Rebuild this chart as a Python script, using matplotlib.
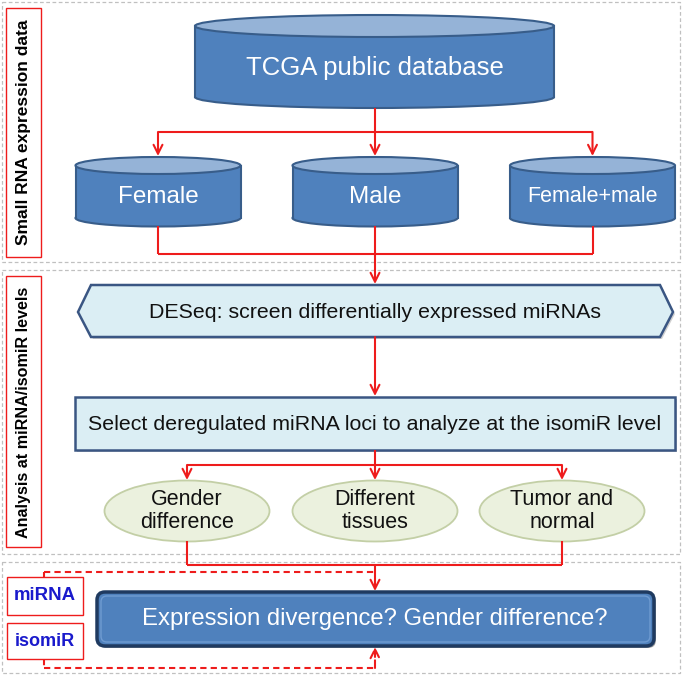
import matplotlib
matplotlib.use("Agg")
import matplotlib.pyplot as plt
from matplotlib.patches import Ellipse, Rectangle, Polygon, FancyBboxPatch

# ---- content ----
panel_labels = ["Small RNA expression data", "Analysis at miRNA/isomiR levels"]
source_label = "TCGA public database"
group_labels = ["Female", "Male", "Female+male"]
step1_label = "DESeq: screen differentially expressed miRNAs"
step2_label = "Select deregulated miRNA loci to analyze at the isomiR level"
compare_labels = ["Gender\ndifference", "Different\ntissues", "Tumor and\nnormal"]
result_label = "Expression divergence? Gender difference?"
level_labels = ["miRNA", "isomiR"]

W, H = 683, 675
fig = plt.figure(figsize=(W / 100, H / 100), dpi=100)
ax = fig.add_axes([0, 0, 1, 1])
ax.set_xlim(0, W)
ax.set_ylim(H, 0)
ax.axis("off")

FONT = "Liberation Sans"
RED = "#ee1c1c"
BLUE_FILL = "#4f81bd"
BLUE_TOP = "#95b3d7"
BLUE_EDGE = "#385d8a"
LIGHT_FILL = "#dbeef4"
DARK_EDGE = "#3a5683"
GREEN_FILL = "#ebf1de"
GREEN_EDGE = "#c3cfa6"
GRAY = "#c0c0c0"


def line(xs, ys, **kw):
    kw.setdefault("color", RED)
    kw.setdefault("lw", 1.5)
    ax.plot(xs, ys, solid_capstyle="butt", **kw)


def arrow(x, y0, y1, ls="-"):
    ax.annotate("", xy=(x, y1), xytext=(x, y0),
                arrowprops=dict(arrowstyle="->", color=RED, lw=1.5, ls=ls,
                                shrinkA=0, shrinkB=0, mutation_scale=16))


def cylinder(cx, w, ytop, ybot, ry, text, fs):
    x0 = cx - w / 2
    ax.add_patch(Ellipse((cx, ybot), w, 2 * ry, fc=BLUE_FILL, ec=BLUE_EDGE, lw=1.5, zorder=2))
    ax.add_patch(Rectangle((x0, ytop), w, ybot - ytop, fc=BLUE_FILL, ec="none", zorder=2))
    ax.plot([x0, x0], [ytop, ybot], color=BLUE_EDGE, lw=1.5, zorder=3)
    ax.plot([x0 + w, x0 + w], [ytop, ybot], color=BLUE_EDGE, lw=1.5, zorder=3)
    ax.add_patch(Ellipse((cx, ytop), w, 2 * ry, fc=BLUE_TOP, ec=BLUE_EDGE, lw=1.5, zorder=3))
    ax.text(cx, (ytop + ry + ybot) / 2 + 1, text, color="white", fontsize=fs,
            family=FONT, ha="center", va="center", zorder=4)


# ---- panels (dashed gray) ----
for (y0, y1) in [(2, 262), (270, 554), (562, 673)]:
    ax.add_patch(Rectangle((2, y0), 678, y1 - y0, fc="none", ec=GRAY, lw=0.9, ls=(0, (3, 2))))

# side label boxes
ax.add_patch(Rectangle((6, 8), 35, 249, fc="white", ec=RED, lw=1.0))
ax.text(23.5, 132, panel_labels[0], rotation=90, fontsize=12.5, family=FONT,
        weight="bold", ha="center", va="center")
ax.add_patch(Rectangle((6, 276), 35, 271, fc="white", ec=RED, lw=1.0))
ax.text(23.5, 412, panel_labels[1], rotation=90, fontsize=11.6, family=FONT,
        weight="bold", ha="center", va="center")

# ---- panel 1 ----
cylinder(374.5, 359, 26, 97, 11, source_label, 18.5)
group_x = [158, 375, 592.5]
for gx, lab, fs in zip(group_x, group_labels, [17.5, 17.5, 15.5]):
    cylinder(gx, 165, 165.5, 218, 8.5, lab, fs)

line([374.5, 374.5], [108, 132])
line([group_x[0], group_x[2]], [132, 132])
for gx in group_x:
    arrow(gx, 132, 156)

line([group_x[0], group_x[0]], [226, 254])
line([group_x[2], group_x[2]], [226, 254])
line([group_x[0], group_x[2]], [254, 254])
line([375, 375], [226, 254])
arrow(375, 254, 284)

# ---- panel 2 ----
hexpts = [(78, 312), (91, 285), (660, 285), (673, 312), (660, 337), (91, 337)]
ax.add_patch(Polygon([(x + 2, y + 2) for x, y in hexpts], closed=True, fc="#d0d0d0", ec="none", zorder=1))
ax.add_patch(Polygon(hexpts, closed=True, fc=LIGHT_FILL, ec=DARK_EDGE, lw=1.8, zorder=2))
ax.text(375, 312, step1_label, fontsize=15.4, family=FONT, color="#111111",
        ha="center", va="center", zorder=3)

arrow(375, 337, 396)

ax.add_patch(Rectangle((77, 399), 600, 53, fc="#c8c8c8", ec="none", zorder=1))
ax.add_patch(Rectangle((75, 397), 600, 53, fc=LIGHT_FILL, ec=DARK_EDGE, lw=1.8, zorder=2))
ax.text(375, 424, step2_label, fontsize=15.4, family=FONT, color="#111111",
        ha="center", va="center", zorder=3)

comp_x = [187, 375, 562]
line([375, 375], [450, 465])
line([comp_x[0], comp_x[2]], [465, 465])
for cx in comp_x:
    arrow(cx, 465, 480)
for cx, lab in zip(comp_x, compare_labels):
    ax.add_patch(Ellipse((cx, 511), 165, 61, fc=GREEN_FILL, ec=GREEN_EDGE, lw=1.3, zorder=2))
    ax.text(cx, 511, lab, fontsize=15.5, family=FONT, color="#111111",
            ha="center", va="center", linespacing=1.15, zorder=3)

line([comp_x[0], comp_x[0]], [541, 565])
line([comp_x[2], comp_x[2]], [541, 565])
line([comp_x[0], comp_x[2]], [565, 565])
arrow(375, 565, 591)

# ---- panel 3 ----
ax.add_patch(FancyBboxPatch((99, 594), 557, 54, boxstyle="round,pad=0,rounding_size=8",
                            fc="#a0a0a0", ec="none", zorder=1))
ax.add_patch(FancyBboxPatch((97, 592), 557, 54, boxstyle="round,pad=0,rounding_size=8",
                            fc=BLUE_FILL, ec="#1f3a60", lw=2.5, zorder=2))
ax.add_patch(FancyBboxPatch((101, 596), 549, 46, boxstyle="round,pad=0,rounding_size=6",
                            fc="none", ec="#6f9bd1", lw=1.0, zorder=2))
ax.text(375, 619, result_label, fontsize=17.2, family=FONT, color="white",
        ha="center", va="center", zorder=3)

for (y0, y1), lab, fs in zip([(577, 615), (623, 659)], level_labels, [13.4, 13.0]):
    ax.add_patch(Rectangle((7, y0), 76, y1 - y0, fc="white", ec=RED, lw=1.0, zorder=2))
    ax.text(45, (y0 + y1) / 2, lab, fontsize=fs, family=FONT, weight="bold",
            color="#1a1acc", ha="center", va="center", zorder=3)

dash = (0, (3, 2))
line([44, 44], [577, 572], ls=dash)
line([44, 375], [572, 572], ls=dash)
line([44, 44], [659, 668], ls=dash)
line([44, 375], [668, 668], ls=dash)
arrow(375, 668, 647, ls="--")

fig.savefig("out.png", dpi=100)
